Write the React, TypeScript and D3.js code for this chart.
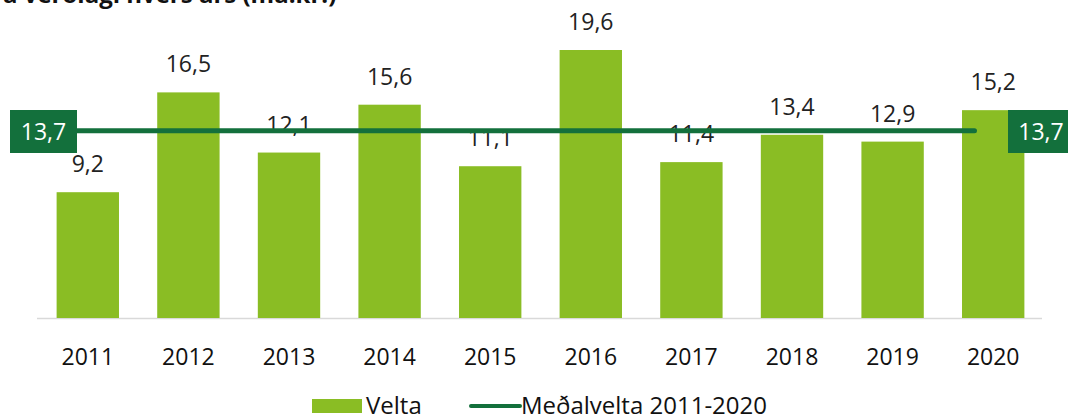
import React from "react";
import * as d3 from "d3";

const years = ["2011","2012","2013","2014","2015","2016","2017","2018","2019","2020"];
const velta = [9.2,16.5,12.1,15.6,11.1,19.6,11.4,13.4,12.9,15.2];
const avg = 13.7;
const title = "á verðlagi hvers árs (ma.kr.)";
const legendBar = "Velta";
const legendLine = "Meðalvelta 2011-2020";

const W = 1068, H = 416;
const BAR = "#8abd24";
const DARK = "#13703c";
const FONT = "'Open Sans', 'DejaVu Sans', sans-serif";

export default function App() {
  const x = d3.scaleBand().domain(years).range([37.5, 1043.5]).paddingInner(0.38).paddingOuter(0.19);
  const y = d3.scaleLinear().domain([0, 19.6]).range([318, 50]);
  const fmt = (v: number) => v.toFixed(1).replace(".", ",");
  const line = d3.line<number>().x((d) => d).y(() => y(avg));
  const x0 = (x(years[0]) ?? 0);
  const x1 = (x(years[years.length - 1]) ?? 0) + x.bandwidth() * 0.2;
  return (
    <svg width={W} height={H} style={{ position: "absolute", left: 0, top: 0, background: "#fff" }} fontFamily={FONT}>
      <text x={3} y={3} fontSize={24} fontWeight="bold" fill="#111">{title}</text>
      <line x1={37} x2={1042} y1={318.5} y2={318.5} stroke="#d9d9d9" strokeWidth={1.5} />
      {years.map((yr, i) => (
        <g key={yr}>
          <rect x={x(yr)} y={y(velta[i])} width={x.bandwidth()} height={y(0) - y(velta[i])} fill={BAR} />
          <text x={(x(yr) ?? 0) + x.bandwidth() / 2} y={y(velta[i]) - 20} textAnchor="middle" fontSize={23} fill="#222">{fmt(velta[i])}</text>
          <text x={(x(yr) ?? 0) + x.bandwidth() / 2} y={365} textAnchor="middle" fontSize={23} fill="#111">{yr}</text>
        </g>
      ))}
      <path d={line([x0, x1]) ?? ""} stroke={DARK} strokeWidth={5} fill="none" strokeLinecap="round" />
      <rect x={10} y={110} width={67} height={43} fill={DARK} />
      <text x={43.5} y={140} textAnchor="middle" fontSize={23} fill="#fff">{fmt(avg)}</text>
      <rect x={1008} y={110} width={62} height={43} fill={DARK} />
      <text x={1041} y={140} textAnchor="middle" fontSize={23} fill="#fff">{fmt(avg)}</text>
      <rect x={312} y={399} width={50} height={14} fill={BAR} />
      <text x={366} y={414} fontSize={24} fill="#111">{legendBar}</text>
      <line x1={471} x2={520} y1={406} y2={406} stroke={DARK} strokeWidth={4} strokeLinecap="round" />
      <text x={521} y={414} fontSize={24} fill="#111">{legendLine}</text>
    </svg>
  );
}
